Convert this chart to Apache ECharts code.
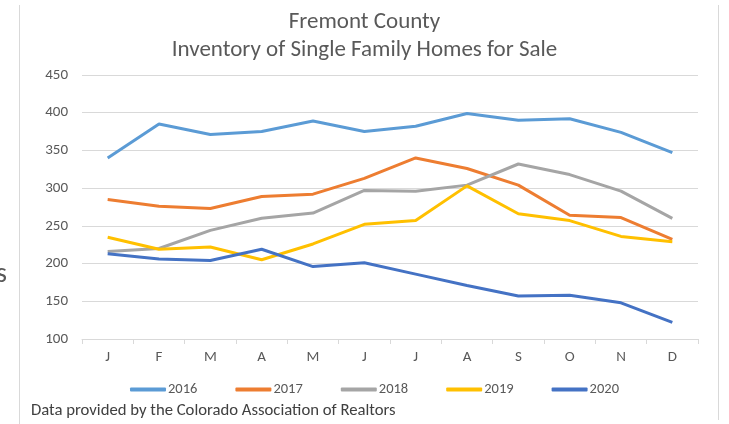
<!DOCTYPE html>
<html>
<head>
<meta charset="utf-8">
<script src="https://cdn.jsdelivr.net/npm/echarts@6/dist/echarts.min.js"></script>
<style>html,body{margin:0;padding:0;background:#fff}#c{width:729px;height:424px}</style>
</head>
<body>
<div id="c"></div>
<script>
const months = ['J','F','M','A','M','J','J','A','S','O','N','D'];
const yTicks = [100, 150, 200, 250, 300, 350, 400, 450];
const s2016 = [340, 385, 371, 375, 389, 375, 382, 399, 390, 392, 374, 347];
const s2017 = [285, 276, 273, 289, 292, 313, 340, 326, 304, 264, 261, 232];
const s2018 = [216, 220, 244, 260, 267, 297, 296, 304, 332, 318, 296, 260];
const s2019 = [235, 219, 222, 205, 226, 252, 257, 303, 266, 257, 236, 229];
const s2020 = [213, 206, 204, 219, 196, 201, 186, 171, 157, 158, 148, 122];
const seriesNames = ['2016', '2017', '2018', '2019', '2020'];
const colors = ['#5B9BD5', '#ED7D31', '#A5A5A5', '#FFC000', '#4472C4'];
const FONT = 'Carlito, "Liberation Sans", sans-serif';

const chart = echarts.init(document.getElementById('c'), null, {renderer: 'canvas'});
const data = [s2016, s2017, s2018, s2019, s2020];
chart.setOption({
  animation: false,
  backgroundColor: '#fff',
  color: colors,
  title: {
    text: 'Fremont County\nInventory of Single Family Homes for Sale',
    left: 'center',
    top: 3,
    textStyle: {fontFamily: FONT, fontSize: 23, fontWeight: 'normal', color: '#595959', lineHeight: 28}
  },
  graphic: [
    {type: 'line', shape: {x1: 19.5, y1: 5, x2: 19.5, y2: 424}, style: {stroke: '#D9D9D9', lineWidth: 1}},
    {type: 'line', shape: {x1: 718.5, y1: 5, x2: 718.5, y2: 420}, style: {stroke: '#D9D9D9', lineWidth: 1}},
    {type: 'text', left: -4, top: 261, style: {text: 's', fontFamily: FONT, fontSize: 28, fill: '#595959'}},
    {type: 'text', left: 31, top: 402, style: {text: 'Data provided by the Colorado Association of Realtors', fontFamily: FONT, fontSize: 16.7, fill: '#404040'}}
  ],
  legend: {
    data: seriesNames,
    left: 125,
    top: 377,
    itemWidth: 36,
    itemHeight: 4,
    itemGap: 38,
    icon: 'roundRect',
    textStyle: {fontFamily: FONT, fontSize: 14.5, color: '#595959', padding: [0, 0, 0, -3]}
  },
  grid: {left: 82, right: 31, top: 75, bottom: 85, containLabel: false},
  xAxis: {
    type: 'category',
    data: months,
    boundaryGap: true,
    axisLine: {lineStyle: {color: '#D9D9D9'}},
    axisTick: {show: true, length: 5, lineStyle: {color: '#D9D9D9'}},
    axisLabel: {fontFamily: FONT, fontSize: 15, color: '#595959', margin: 11}
  },
  yAxis: {
    type: 'value',
    min: yTicks[0],
    max: yTicks[yTicks.length - 1],
    interval: 50,
    axisLine: {show: false},
    axisTick: {show: false},
    splitLine: {lineStyle: {color: '#D9D9D9'}},
    axisLabel: {fontFamily: FONT, fontSize: 15, color: '#595959', margin: 14}
  },
  series: seriesNames.map((n, i) => ({
    name: n,
    type: 'line',
    data: data[i],
    symbol: 'none',
    lineStyle: {width: 3, color: colors[i]},
    itemStyle: {color: colors[i]}
  }))
});
</script>
</body>
</html>
